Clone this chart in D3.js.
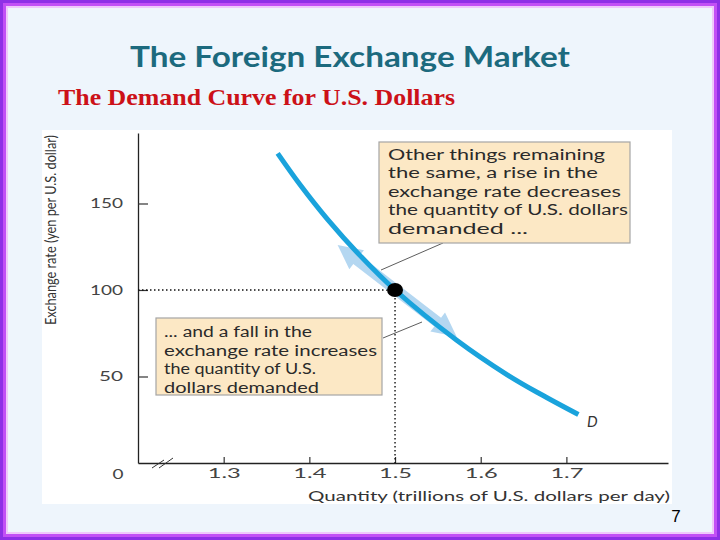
<!DOCTYPE html>
<html><head><meta charset="utf-8">
<script src="https://cdn.jsdelivr.net/npm/d3@7"></script>
<style>html,body{margin:0;padding:0;background:#fff;} svg{display:block;}</style>
</head><body><svg id="c" width="720" height="540"></svg>
<script>
// ---- data ----
const quantity = [1.363, 1.389, 1.421, 1.459, 1.5, 1.572, 1.631, 1.669, 1.714];
const rate     = [179,   161,   141,   120,   100, 71,    51,    40,    28];
const xTicks = [1.3, 1.4, 1.5, 1.6, 1.7];
const xTickLabels = ["1.3", "1.4", "1.5", "1.6", "1.7"];
const yTicks = [50, 100, 150];
const yTickLabels = ["50", "100", "150"];
const equilibriumQty = [1.5];
const equilibriumRate = [100];
const arrowQty = [1.433, 1.572];
const arrowRate = [126, 73];
const title = "The Foreign Exchange Market";
const subtitle = "The Demand Curve for U.S. Dollars";
const xTitle = "Quantity (trillions of U.S. dollars per day)";
const yTitle = "Exchange rate (yen per U.S. dollar)";
const curveLabel = "D";
const topNote = ["Other things remaining", "the same, a rise in the", "exchange rate decreases", "the quantity of U.S. dollars", "demanded ..."];
const topNoteWidths = [217, 210, 233, 240, 140];
const bottomNote = ["... and a fall in the", "exchange rate increases", "the quantity of U.S.", "dollars demanded"];
const bottomNoteWidths = [148, 213, 152, 155];
const pageNumber = "7";

// ---- drawing ----
const svg = d3.select("#c");
const W = 720, H = 540;
const FONT = "Lato, 'Open Sans', sans-serif";

svg.append("rect").attr("width", W).attr("height", H).attr("fill", "#eef5fc");
// purple frame
svg.append("rect").attr("x", 1.5).attr("y", 1.5).attr("width", W - 3).attr("height", H - 3)
  .attr("fill", "none").attr("stroke", "#8e2fe6").attr("stroke-width", 3);
svg.append("rect").attr("x", 4.5).attr("y", 4.5).attr("width", W - 9).attr("height", H - 9)
  .attr("fill", "none").attr("stroke", "#c24ff5").attr("stroke-width", 3);
svg.append("rect").attr("x", 7).attr("y", 7).attr("width", W - 14).attr("height", H - 14)
  .attr("fill", "none").attr("stroke", "#efc8fb").attr("stroke-width", 2);

// titles
svg.append("text").attr("x", 350).attr("y", 67).attr("text-anchor", "middle")
  .attr("font-family", FONT).attr("font-weight", "bold").attr("font-size", 29)
  .attr("fill", "#1c6a7e").attr("textLength", 440).attr("lengthAdjust", "spacingAndGlyphs")
  .text(title);
svg.append("text").attr("x", 58).attr("y", 105)
  .attr("font-family", "'Liberation Serif', 'DejaVu Serif', serif").attr("font-weight", "bold").attr("font-size", 23)
  .attr("fill", "#cc1118").attr("textLength", 397).attr("lengthAdjust", "spacingAndGlyphs")
  .text(subtitle);

// white chart panel
svg.append("rect").attr("x", 42).attr("y", 130).attr("width", 630).attr("height", 374).attr("fill", "#ffffff");

// scales
const x = d3.scaleLinear().domain([1.2, 1.8186]).range([138, 668]);
const y = d3.scaleLinear().domain([0, 190.75]).range([463, 133]);
const x0 = x.range()[0], y0 = y.range()[0];

// axes
const gx = svg.append("g").attr("transform", `translate(0,${y0})`)
  .call(d3.axisBottom(x).tickValues(xTicks).tickFormat((d, i) => xTickLabels[i])
    .tickSize(-6).tickSizeOuter(0).tickPadding(6));
const gy = svg.append("g").attr("transform", `translate(${x0},0)`)
  .call(d3.axisLeft(y).tickValues(yTicks).tickFormat((d, i) => yTickLabels[i])
    .tickSize(-10).tickSizeOuter(0).tickPadding(15));
[gx, gy].forEach(g => {
  g.select(".domain").attr("stroke", "#222").attr("stroke-width", 1.3);
  g.selectAll(".tick line").attr("stroke", "#333").attr("stroke-width", 1.2);
  g.selectAll(".tick text").attr("font-family", FONT).attr("font-size", 13).attr("fill", "#444")
    .attr("lengthAdjust", "spacingAndGlyphs")
    .attr("textLength", function () { return this.textContent.length === 3 ? 33 : 24; });
});
// origin label
svg.append("text").attr("x", x0 - 20).attr("y", y0 + 16).attr("text-anchor", "middle")
  .attr("font-family", FONT).attr("font-size", 13).attr("fill", "#444")
  .attr("textLength", 11).attr("lengthAdjust", "spacingAndGlyphs").text("0");
// axis break marks
[[14, 5, 26, -3], [21, 5, 35, -5]].forEach(b => {
  svg.append("line").attr("x1", x0 + b[0]).attr("y1", y0 + b[1]).attr("x2", x0 + b[2]).attr("y2", y0 + b[3])
    .attr("stroke", "#333").attr("stroke-width", 1);
});

// axis titles
svg.append("text").attr("transform", `translate(56,230) rotate(-90)`).attr("text-anchor", "middle")
  .attr("font-family", FONT).attr("font-size", 15.5).attr("fill", "#333")
  .attr("textLength", 190).attr("lengthAdjust", "spacingAndGlyphs").text(yTitle);
svg.append("text").attr("x", 670).attr("y", 501).attr("text-anchor", "end")
  .attr("font-family", FONT).attr("font-size", 14).attr("fill", "#333")
  .attr("textLength", 362).attr("lengthAdjust", "spacingAndGlyphs").text(xTitle);

// dotted guides to equilibrium
const ex = x(equilibriumQty[0]), ey = y(equilibriumRate[0]);
svg.append("line").attr("x1", x0).attr("y1", ey).attr("x2", ex).attr("y2", ey)
  .attr("stroke", "#111").attr("stroke-width", 1.4).attr("stroke-dasharray", "1.5,2.5");
svg.append("line").attr("x1", ex).attr("y1", ey).attr("x2", ex).attr("y2", y0)
  .attr("stroke", "#111").attr("stroke-width", 1.4).attr("stroke-dasharray", "1.5,2.5");

// double-headed movement arrow
(function () {
  const p1 = [x(arrowQty[0]), y(arrowRate[0])], p2 = [x(arrowQty[1]), y(arrowRate[1])];
  const dx = p2[0] - p1[0], dy = p2[1] - p1[1], L = Math.hypot(dx, dy);
  const ux = dx / L, uy = dy / L, nx = -uy, ny = ux;
  const hl = 24, hw = 12, sw = 5.5;
  const P = (p, a, b) => [p[0] + ux * a + nx * b, p[1] + uy * a + ny * b];
  const pts = [p1, P(p1, hl, hw), P(p1, hl, sw), P(p2, -hl, sw), P(p2, -hl, hw), p2,
    P(p2, -hl, -hw), P(p2, -hl, -sw), P(p1, hl, -sw), P(p1, hl, -hw)];
  svg.append("path").attr("d", "M" + pts.map(p => p.join(",")).join("L") + "Z")
    .attr("fill", "#acd3f0").attr("opacity", 0.9);
})();

// demand curve
const pts = quantity.map((q, i) => [q, rate[i]]);
svg.append("path").datum(pts)
  .attr("d", d3.line().x(d => x(d[0])).y(d => y(d[1])).curve(d3.curveCatmullRom.alpha(0.5)))
  .attr("fill", "none").attr("stroke", "#1aa3dc").attr("stroke-width", 5);
svg.append("text").attr("x", x(quantity[quantity.length - 1]) + 14).attr("y", y(rate[rate.length - 1]) + 12)
  .attr("text-anchor", "middle").attr("font-family", FONT).attr("font-style", "italic").attr("font-size", 15)
  .attr("fill", "#333").text(curveLabel);

// equilibrium point
svg.append("ellipse").attr("cx", ex).attr("cy", ey).attr("rx", 8).attr("ry", 7).attr("fill", "#000");

// leader lines
svg.append("line").attr("x1", 443).attr("y1", 243).attr("x2", 381).attr("y2", 270)
  .attr("stroke", "#333").attr("stroke-width", 0.8);
svg.append("line").attr("x1", 383).attr("y1", 338).attr("x2", 422).attr("y2", 322)
  .attr("stroke", "#333").attr("stroke-width", 0.8);

// annotation boxes
function note(bx, by, bw, bh, tx, firstBase, lh, lines, widths) {
  svg.append("rect").attr("x", bx).attr("y", by).attr("width", bw).attr("height", bh)
    .attr("fill", "#fce8c5").attr("stroke", "#a5a5a5").attr("stroke-width", 1.2);
  lines.forEach((t, i) => {
    svg.append("text").attr("x", tx).attr("y", firstBase + i * lh)
      .attr("font-family", FONT).attr("font-size", 14.5).attr("fill", "#2a2a2a")
      .attr("textLength", widths[i]).attr("lengthAdjust", "spacingAndGlyphs").text(t);
  });
}
note(379, 142, 251, 101, 388, 160, 18.4, topNote, topNoteWidths);
note(156, 318, 226, 77, 164, 337, 18.5, bottomNote, bottomNoteWidths);

// page number
svg.append("text").attr("x", 676).attr("y", 522).attr("text-anchor", "middle")
  .attr("font-family", "'Liberation Sans', Arial, sans-serif").attr("font-size", 17).attr("fill", "#000")
  .text(pageNumber);
</script>
</body></html>
